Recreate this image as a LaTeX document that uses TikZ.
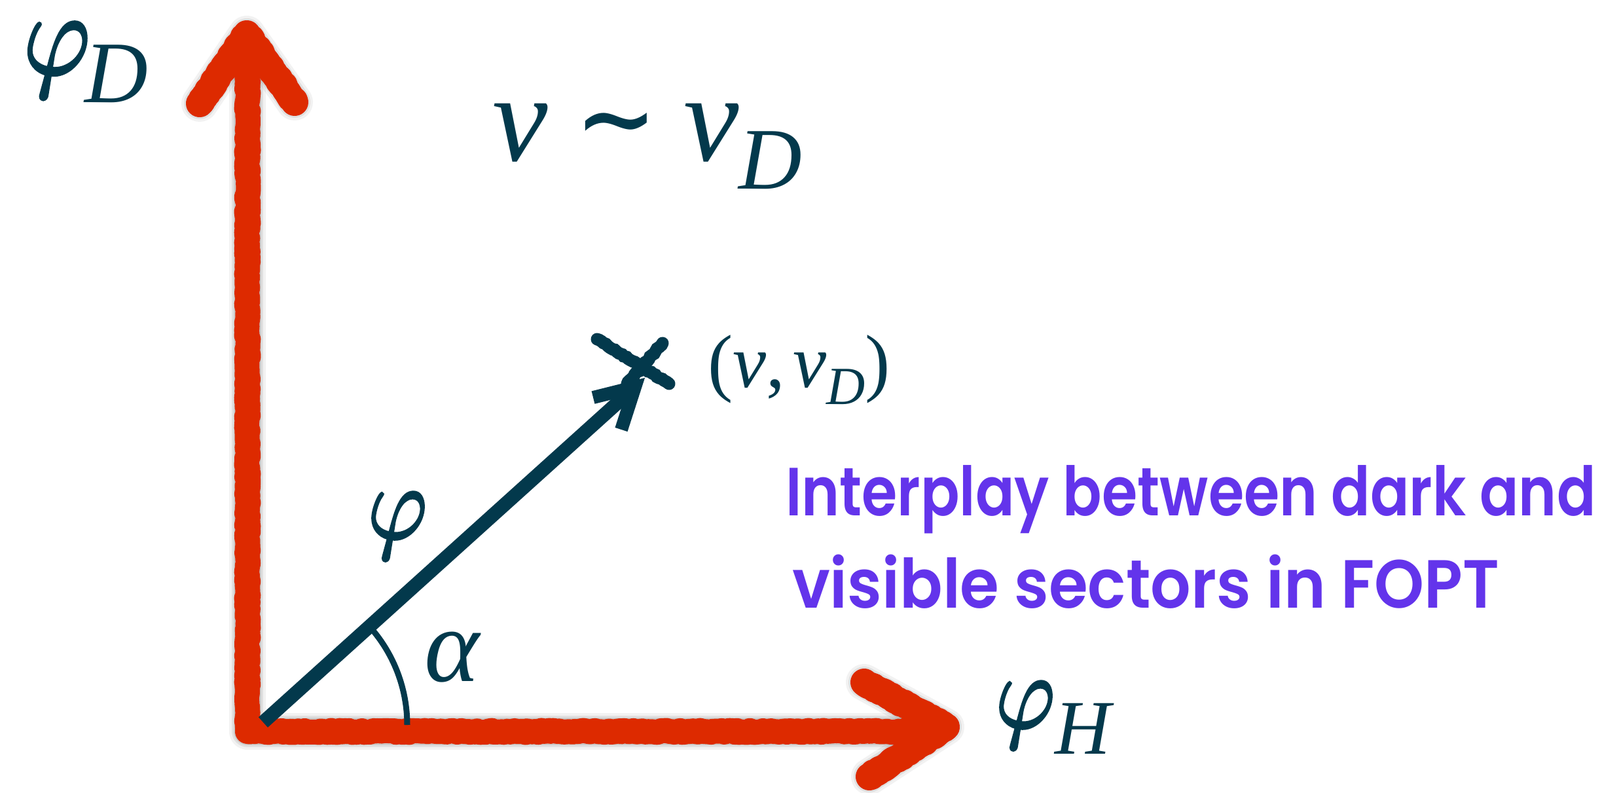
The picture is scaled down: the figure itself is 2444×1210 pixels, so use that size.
\documentclass[tikz,border=0pt]{standalone}
\usepackage{fontspec}
\usetikzlibrary{decorations.pathmorphing}
\newfontfamily\lserif{Liberation Serif}
\newfontfamily\dvs{DejaVu Serif}
\newfontfamily\lmmath{Latin Modern Math}[FakeBold=2.5]
\newfontfamily\popa{Poppins SemiBold}[FakeStretch=0.845]
\newfontfamily\popb{Poppins SemiBold}[FakeStretch=0.93]
\newcommand\myfs[1]{\fontsize{#1}{#1}\selectfont}
\newcommand\vphi{\scalebox{0.86}[1]{\lmmath 𝜑}}
\definecolor{axisred}{RGB}{221,42,0}
\definecolor{tealc}{RGB}{3,57,76}
\definecolor{purp}{RGB}{99,52,235}
\tikzset{
  redstroke/.style={draw=axisred, line width=38, line cap=round, line join=round,
    decorate, decoration={random steps, segment length=4, amplitude=1.5}},
  shadowstroke/.style={draw=black, line cap=round, line join=round, shift={(9,9)}},
  lbl/.style={anchor=base west, inner sep=0, outer sep=0, text=tealc},
  ptxt/.style={anchor=base west, inner sep=0, outer sep=0, text=purp},
  crossstroke/.style={draw=tealc, line width=19, line cap=round,
    decorate, decoration={random steps, segment length=4, amplitude=1}}
}
\begin{document}
\begin{tikzpicture}[x=1pt,y=-1pt]
\useasboundingbox[fill=white] (0,0) rectangle (2444,1210);
% axis points
\coordinate (O) at (378,1117);
\coordinate (Ytop) at (378,85);
\coordinate (Yapex) at (377,52);
\coordinate (Yl) at (305,158);
\coordinate (Yr) at (450,156);
\coordinate (Xend) at (1405,1117);
\coordinate (Xapex) at (1445,1110);
\coordinate (Xu) at (1320,1042);
\coordinate (Xd) at (1328,1186);
% shadows
\foreach \w/\o in {56/0.05,48/0.07,42/0.09}{
  \draw[shadowstroke, line width=\w, opacity=\o] (Ytop) -- (O) -- (Xend);
  \draw[shadowstroke, line width=\w, opacity=\o] (Yl) -- (Yapex) -- (Yr);
  \draw[shadowstroke, line width=\w, opacity=\o] (Xu) -- (Xapex) -- (Xd);
}
% red axes
\draw[redstroke] (Ytop) -- (O) -- (Xend);
\draw[redstroke, line width=42] (Yl) -- (Yapex) -- (Yr);
\draw[redstroke, line width=42] (Xu) -- (Xapex) -- (Xd);
% vector
\coordinate (A0) at (402,1103);
\coordinate (Atip) at (970,591);
\coordinate (Bl) at (906,607);
\coordinate (Br) at (949,656);
\draw[tealc, line width=21] (A0) -- (Atip);
\draw[tealc, line width=20, line join=miter] (Bl) -- (Atip) -- (Br);
% cross
\coordinate (C1) at (912,518);
\coordinate (C2) at (1022,586);
\coordinate (C3) at (1012,524);
\coordinate (C4) at (958,586);
\draw[crossstroke] (C1) -- (C2);
\draw[crossstroke] (C3) -- (C4);
% angle arc
\coordinate (Arc0) at (622,1107);
\draw[tealc, line width=9] (Arc0) arc[start angle=0, end angle=-41, radius=225];
% labels
\node[lbl] (phiD) at (36,113) {\myfs{180}\vphi\hspace{-8pt}\lserif\itshape\raisebox{-43pt}{\myfs{134}D}};
\node[lbl] (vsim) at (752,245) {\lserif\itshape\myfs{190}v\hspace{42pt}\raisebox{12pt}{\dvs\upshape\bfseries\myfs{150}∼}\hspace{40pt}v\raisebox{-43pt}{\myfs{134}D}};
\node[lbl] (pt) at (1081,591) {\lserif\myfs{115}(\textit{v},\hspace{12pt}\textit{v}\raisebox{-26pt}{\myfs{82}\textit{D}})};
\node[lbl] (phi) at (562,822) {\myfs{160}\vphi};
\node[lbl] (alpha) at (648,1040) {\lserif\itshape\myfs{160}α};
\node[lbl] (phiH) at (1521,1111) {\myfs{160}\vphi\lserif\itshape\raisebox{-40pt}{\myfs{118}H}};
\node[ptxt, font=\popa\myfs{104}] (t1) at (1200,787) {Interplay between dark and};
\node[ptxt, font=\popb\myfs{104}] (t2) at (1210,928) {visible sectors in FOPT};
\end{tikzpicture}
\end{document}
